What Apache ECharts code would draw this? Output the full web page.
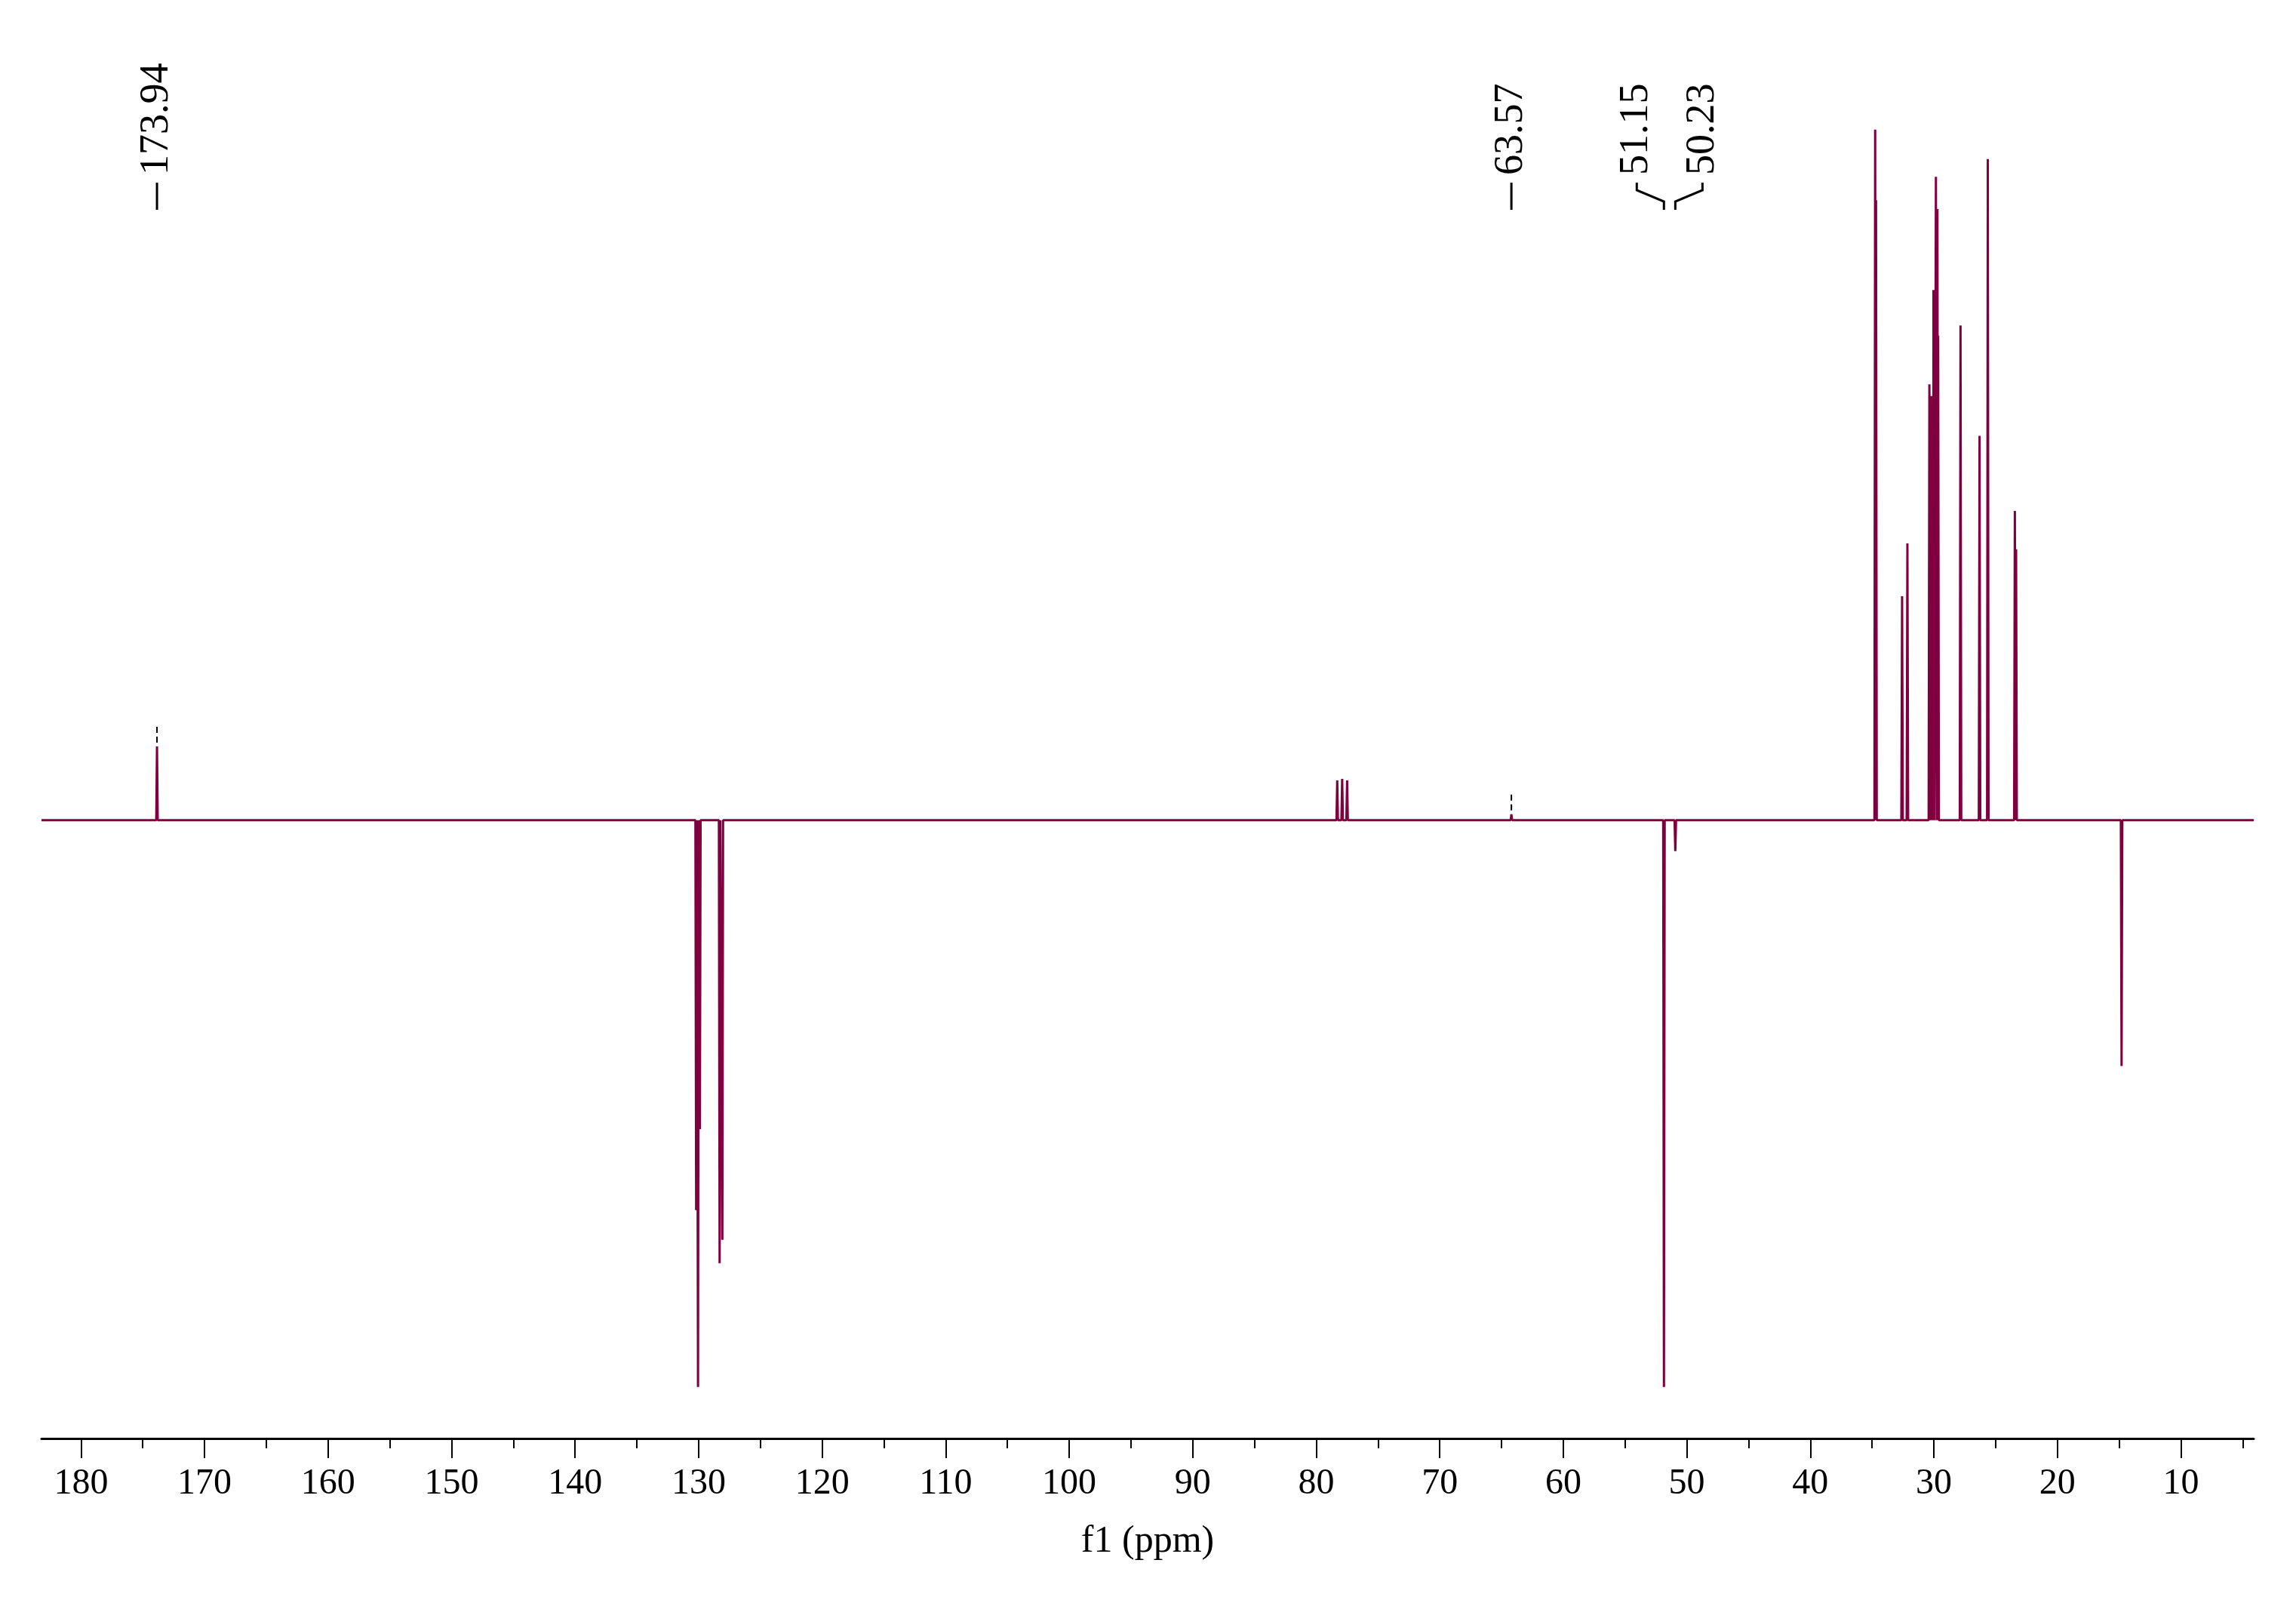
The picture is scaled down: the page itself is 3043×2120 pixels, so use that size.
<!DOCTYPE html>
<html>
<head>
<meta charset="utf-8">
<script src="https://cdn.jsdelivr.net/npm/echarts@6/dist/echarts.min.js"></script>
<style>html,body{margin:0;background:#fff}#c{width:3043px;height:2120px}</style>
</head>
<body>
<div id="c"></div>
<script>
  // Pics (ppm, intensité relative)
  const peaks = [
    [173.85, 50],
    [78.3, 27], [77.9, 28], [77.5, 27],
    [64.2, 4],
    [130.2, -265], [130.05, -385], [129.9, -210],
    [128.3, -301], [128.08, -285],
    [51.85, -385], [50.93, -21],
    [34.75, 469], [34.68, 421],
    [32.57, 152], [32.14, 188],
    [30.36, 296], [30.22, 288], [30.11, 219], [30.03, 360], [29.83, 437], [29.71, 415], [29.65, 329],
    [27.84, 336],
    [26.3, 261],
    [25.63, 449],
    [23.44, 210], [23.34, 184],
    [14.8, -167]
  ];
  const majorTicks = [180, 170, 160, 150, 140, 130, 120, 110, 100, 90, 80, 70, 60, 50, 40, 30, 20, 10];
  const minorTicks = [175, 165, 155, 145, 135, 125, 115, 105, 95, 85, 75, 65, 55, 45, 35, 25, 15, 5];
  // Étiquettes : [texte, position ppm]
  const peakLabels = [['173.94', 173.85], ['63.57', 64.2], ['51.15', 51.85], ['50.23', 50.93]];

  const X_MIN = 4.1, X_MAX = 183.2;
  const COLOR = '#80003f';
  const FONT = 'Liberation Serif';

  // Construire le tracé à partir des pics
  function buildTrace() {
    const sorted = peaks.slice().sort((a, b) => b[0] - a[0]);
    const pts = [[X_MAX, 0]];
    sorted.forEach(p => {
      pts.push([p[0] + 0.06, 0], [p[0], p[1]], [p[0] - 0.06, 0]);
    });
    pts.push([X_MIN, 0]);
    return pts;
  }

  const chart = echarts.init(document.getElementById('c'));
  const xBase = {
    type: 'value', inverse: true, min: X_MIN, max: X_MAX, position: 'bottom',
    splitLine: { show: false }
  };
  chart.setOption({
    animation: false,
    grid: { left: 55, right: 56, top: 160, bottom: 214 },
    xAxis: [
      Object.assign({}, xBase, {
        name: 'f1 (ppm)', nameLocation: 'middle', nameGap: 112,
        nameTextStyle: { fontFamily: FONT, fontSize: 50, color: '#000' },
        axisLine: { onZero: false, lineStyle: { color: '#000', width: 3 } },
        axisTick: { customValues: majorTicks, length: 26, lineStyle: { color: '#000', width: 2 } },
        axisLabel: { customValues: majorTicks, margin: 36, fontFamily: FONT, fontSize: 48, color: '#000' }
      }),
      Object.assign({}, xBase, {
        axisLine: { show: false, onZero: false },
        axisTick: { customValues: minorTicks, length: 13, lineStyle: { color: '#000', width: 2 } },
        axisLabel: { show: false }
      })
    ],
    yAxis: { type: 'value', min: -420, max: 475, show: false, splitLine: { show: false } },
    series: [{
      type: 'line', data: buildTrace(), symbol: 'none',
      lineStyle: { color: COLOR, width: 3 }
    }]
  });

  // Étiquettes des pics en haut
  const px = v => chart.convertToPixel({ xAxisIndex: 0 }, v);
  const py = v => chart.convertToPixel({ yAxisIndex: 0 }, v);
  const lineStyle = { stroke: '#000', lineWidth: 3 };
  const g = [];
  function label(text, x) {
    g.push({ type: 'text', x: x, y: 232, rotation: Math.PI / 2,
      style: { text: text, font: '54px "' + FONT + '"', fill: '#000', align: 'left', verticalAlign: 'middle' } });
  }
  peakLabels.slice(0, 2).forEach(([t, v]) => {
    const x = px(v);
    label(t, x);
    g.push({ type: 'polyline', shape: { points: [[x, 242], [x, 278]] }, style: lineStyle });
  });
  const x51 = px(peakLabels[2][1]), x50 = px(peakLabels[3][1]);
  label(peakLabels[2][0], x51 - 36);
  label(peakLabels[3][0], x50 + 36);
  g.push({ type: 'polyline', shape: { points: [[x51 - 36, 242], [x51 - 36, 252], [x51, 267], [x51, 278]] }, style: lineStyle });
  g.push({ type: 'polyline', shape: { points: [[x50 + 36, 242], [x50 + 36, 252], [x50, 267], [x50, 278]] }, style: lineStyle });
  // Petits repères au-dessus des pics
  [[173.85, 50], [64.2, 4]].forEach(([v, h]) => {
    const x = px(v), y = py(h);
    g.push({ type: 'polyline', shape: { points: [[x, y - 26], [x, y - 4]] }, style: { stroke: '#000', lineWidth: 2, lineDash: [8, 5] } });
  });
  chart.setOption({ graphic: g });
</script>
</body>
</html>
